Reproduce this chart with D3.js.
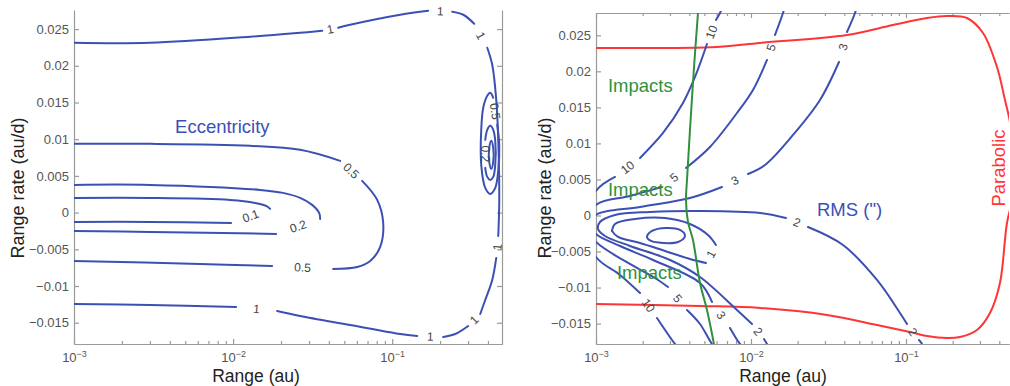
<!DOCTYPE html>
<html>
<head>
<meta charset="utf-8">
<script src="https://cdn.jsdelivr.net/npm/d3@7"></script>
<style>
  body { margin: 0; background: #fff; }
  svg { display: block; }
  text { font-family: "Liberation Sans", Arial, Helvetica, sans-serif; }
</style>
</head>
<body>
<svg id="chart" width="1010" height="386"></svg>
<script>
// ---- data (range in au, range rate in au/d) ----
var yTicks = [-0.015, -0.01, -0.005, 0, 0.005, 0.01, 0.015, 0.02, 0.025];
var xMajor = [0.001, 0.01, 0.1];

// left panel: eccentricity contours, each one split where its label sits
var ecc1 = [
    [[0.001, 0.023136], [0.003005, 0.023136], [0.012794, 0.023954], [0.026384, 0.024499], [0.036294, 0.024772]],
    [[0.04574, 0.025181], [0.054424, 0.02559], [0.112285, 0.026953], [0.16842, 0.027498]],
    [[0.2384, 0.027362], [0.27963, 0.026953], [0.32786, 0.025726]],
    [[0.39575, 0.022454], [0.42546, 0.020136], [0.45082, 0.015365], [0.46416, 0.009911], [0.47091, 0.001731], [0.46416, -0.003177]],
    [[0.45082, -0.006176], [0.42546, -0.009175], [0.38445, -0.011902], [0.35756, -0.01381]],
    [[0.30055, -0.015446], [0.24899, -0.016537], [0.20925, -0.016946]],
    [[0.14364, -0.016809], [0.11229, -0.016537], [0.054424, -0.01531], [0.026384, -0.014083], [0.018908, -0.013401]],
    [[0.010444, -0.012856], [0.003005, -0.012583], [0.001, -0.012447]]
];
var ecc05 = [
    [[0.001, 0.009366], [0.003005, 0.009366], [0.012794, 0.009093], [0.026384, 0.008548], [0.047085, 0.007048]],
    [[0.064756, 0.004321], [0.08048, 0.001731], [0.087792, -0.001404], [0.084059, -0.004676], [0.072724, -0.006585], [0.06024, -0.007403], [0.042553, -0.007676]],
    [[0.017587, -0.007267], [0.0062, -0.006994], [0.001, -0.006585]]
];
var ecc02 = [
    [[0.001, 0.003776], [0.003005, 0.003776], [0.014784, 0.003095], [0.020627, 0.002686], [0.026384, 0.002004], [0.031393, 0.00105], [0.034741, -0.000041], [0.035248, -0.000859]],
    [[0.018636, -0.002904], [0.003005, -0.002631], [0.001, -0.002495]]
];
var ecc01 = [
    [[0.001, 0.002004], [0.003005, 0.002004], [0.009575, 0.001731], [0.013749, 0.001322], [0.016126, 0.000913], [0.017085, 0.000504]],
    [[0.009715, -0.001404], [0.003005, -0.001268], [0.001, -0.001268]]
];
// small loops close to the right edge
var eccLoop05 = [
    [[0.4574, 0.011957], [0.47091, 0.00923], [0.46416, 0.005821], [0.44435, 0.003367], [0.41331, 0.002549], [0.38445, 0.003367],
     [0.36278, 0.006503], [0.36278, 0.011275], [0.37347, 0.014274], [0.39575, 0.01591], [0.41331, 0.016319], [0.43165, 0.015637]]
];
var eccLoop02 = [
    [[0.38445, 0.006094], [0.39575, 0.004867], [0.41331, 0.004457], [0.43165, 0.004867], [0.44435, 0.006503],
     [0.44435, 0.009775], [0.43165, 0.011275], [0.41331, 0.01182], [0.39575, 0.011275], [0.38445, 0.009911]]
];
var eccLoop01 = [
    [[0.41934, 0.009775], [0.43165, 0.00882], [0.43165, 0.006912], [0.41934, 0.005957], [0.40738, 0.006912], [0.40738, 0.00882]]
];

// right panel: RMS contours
var rms10 = [
    [[0.00345, -0.0185], [0.003233, -0.017828], [0.002474, -0.014221]],
    [[0.001923, -0.010752], [0.001428, -0.008255], [0.001, -0.005757], [0.000849, -0.00132], [0.001, 0.003399], [0.001326, 0.005341]],
    [[0.001923, 0.007977], [0.002706, 0.011446], [0.003641, 0.015607], [0.004352, 0.019215], [0.0052, 0.023792]],
    [[0.005943, 0.027122], [0.00631, 0.028094], [0.006598, 0.029064]]
];
var rms5 = [
    [[0.006, -0.0185], [0.005602, -0.017828], [0.004689, -0.015053], [0.003864, -0.013111]],
    [[0.002915, -0.009919], [0.002402, -0.008671], [0.001493, -0.006173], [0.001, -0.003676], [0.000862, -0.001595], [0.001, 0.001457], [0.001657, 0.002705], [0.002666, 0.003954]],
    [[0.003807, 0.00659], [0.005437, 0.009503], [0.008119, 0.01422], [0.010301, 0.017411], [0.012681, 0.021573]],
    [[0.014288, 0.025042], [0.016086, 0.028094], [0.016569, 0.029064]]
];
var rms3 = [
    [[0.00915, -0.0185], [0.008492, -0.017828], [0.00732, -0.015609]],
    [[0.005602, -0.012], [0.004689, -0.009365], [0.002332, -0.006173], [0.001428, -0.004231], [0.001, -0.002567], [0.000942, -0.001318],
     [0.001, 0.000069], [0.001923, 0.001179], [0.00404, 0.002428], [0.0065, 0.003954]],
    [[0.009561, 0.005757], [0.012314, 0.007006], [0.018662, 0.011168], [0.027868, 0.016024], [0.03695, 0.021295]],
    [[0.041625, 0.025457], [0.046893, 0.028094], [0.048306, 0.029064]]
];
var rms2 = [
    [[0.013262, -0.018659], [0.012681, -0.017828], [0.012133, -0.017134]],
    [[0.01015, -0.015053], [0.008119, -0.013111], [0.004689, -0.008532], [0.003003, -0.006173], [0.001657, -0.004231], [0.001143, -0.002844],
     [0.00103, -0.001873], [0.001061, -0.000902], [0.001326, 0.000069], [0.002231, 0.000486], [0.004689, 0.000624], [0.011432, 0.000347], [0.016816, -0.000347]],
    [[0.02332, -0.001595], [0.039227, -0.004093], [0.06501, -0.008948], [0.091471, -0.013527], [0.1015, -0.015053]],
    [[0.12131, -0.017273], [0.12681, -0.017828], [0.13065, -0.018661]]
];
var rms1 = [
    [[0.001268, -0.00215], [0.001326, -0.001179], [0.001785, -0.000485], [0.002788, -0.000347], [0.00404, -0.001179], [0.005278, -0.002705], [0.005943, -0.004093]],
    [[0.005124, -0.00659], [0.00404, -0.006035], [0.002788, -0.004925], [0.001923, -0.003815], [0.001387, -0.002983], [0.001268, -0.00215]]
];
var rmsMin = [
    [[0.002133, -0.002983], [0.002298, -0.00215], [0.002829, -0.001734], [0.003483, -0.002012], [0.003751, -0.002844], [0.003381, -0.003676], [0.002706, -0.003815], [0.002264, -0.003537]]
];

var parabolic = [
    [0.001, 0.02324], [0.006032, 0.023377], [0.011432, 0.023932], [0.041625, 0.025042], [0.08242, 0.026429], [0.13657, 0.0274],
    [0.18384, 0.027678], [0.24744, 0.0274], [0.3139, 0.025319], [0.3864, 0.020602], [0.43522, 0.016024], [0.4619, 0.013665],
    [0.5, 0.009087], [0.5, 0.003538], [0.44833, -0.00104], [0.40399, -0.009365], [0.34826, -0.013527], [0.28709, -0.015886],
    [0.22307, -0.016857], [0.18384, -0.016996], [0.13657, -0.016719], [0.10612, -0.016164], [0.06501, -0.015192],
    [0.030927, -0.013805], [0.011432, -0.012833], [0.004689, -0.012556], [0.001, -0.012278]
];
var impacts = [
    [0.004549, 0.028094], [0.00429, 0.020602], [0.00404, 0.011862], [0.003864, 0.004925], [0.003807, 0.00215],
    [0.003922, -0.000902], [0.004224, -0.003399], [0.004689, -0.009365], [0.0052, -0.013111], [0.00577, -0.017828]
];

var impactLabels = [[0.001195, 0.017133], [0.001195, 0.002705], [0.001366, -0.008809]];
var eccLabelAt = [0.004317, 0.010866];
var rmsLabelAt = [0.026658, -0.000069];
var parabolicLabelAt = [0.43522, 0.00659];

// ---- drawing ----
var blue = '#3c50b4', red = '#ff3535', green = '#2f913d', axisGrey = '#9a9a9a';
var svg = d3.select('#chart');

function makePanel(id, box, xDomain, yDomain) {
    var sx = d3.scaleLog().domain(xDomain).range([box.x0, box.x1]);
    var sy = d3.scaleLinear().domain(yDomain).range([box.y1, box.y0]);
    var g = svg.append('g');
    svg.append('clipPath').attr('id', 'clip' + id)
        .append('rect')
        .attr('x', box.x0).attr('y', box.y0 - 2)
        .attr('width', box.x1 - box.x0).attr('height', box.y1 - box.y0 + 2);

    var minors = sx.ticks().filter(d => xMajor.indexOf(d) < 0);

    function style(a) {
        a.attr('font-size', 13).attr('font-family', null);
        a.select('.domain').attr('stroke', axisGrey).attr('stroke-width', 1.2);
        a.selectAll('.tick line').attr('stroke', axisGrey).attr('stroke-width', 1.2);
        a.selectAll('.tick text').attr('fill', '#555');
    }

    // left axis
    g.append('g').attr('transform', `translate(${box.x0},0)`)
        .call(d3.axisLeft(sy).tickValues(yTicks).tickSize(-5).tickSizeOuter(0).tickPadding(5).tickFormat(d3.format('')))
        .call(style);
    if (box.right) {
        g.append('g').attr('transform', `translate(${box.x1},0)`)
            .call(d3.axisRight(sy).tickValues(yTicks).tickSize(-5).tickSizeOuter(0).tickFormat(''))
            .call(style);
    }
    // bottom axis with 10^n labels
    var bottom = g.append('g').attr('transform', `translate(0,${box.y1})`)
        .call(d3.axisBottom(sx).tickValues(xMajor).tickSize(-5).tickSizeOuter(0).tickPadding(9).tickFormat(''))
        .call(style);
    bottom.selectAll('.tick text').each(function (d) {
        var t = d3.select(this);
        t.append('tspan').text('10');
        t.append('tspan').attr('dy', -5).attr('font-size', 9)
            .text('\u2212' + Math.abs(Math.round(Math.log10(d))));
    });
    g.append('g').attr('transform', `translate(0,${box.y1})`)
        .call(d3.axisBottom(sx).tickValues(minors).tickSize(-3).tickSizeOuter(0).tickFormat(''))
        .call(style);
    if (box.top) {
        g.append('g').attr('transform', `translate(0,${box.y0})`)
            .call(d3.axisTop(sx).tickValues(xMajor).tickSize(-5).tickSizeOuter(0).tickFormat(''))
            .call(style);
        g.append('g').attr('transform', `translate(0,${box.y0})`)
            .call(d3.axisTop(sx).tickValues(minors).tickSize(-3).tickSizeOuter(0).tickFormat(''))
            .call(style);
    }

    g.append('text').attr('x', box.xTitle).attr('y', 382)
        .attr('text-anchor', 'middle').attr('font-size', 17.5).attr('fill', '#222')
        .text('Range (au)');
    g.append('text').attr('transform', `translate(${box.yTitle},188) rotate(-90)`)
        .attr('text-anchor', 'middle').attr('font-size', 18).attr('fill', '#222')
        .text('Range rate (au/d)');

    var plot = g.append('g').attr('clip-path', `url(#clip${id})`);
    return { sx: sx, sy: sy, g: g, plot: plot };
}

function drawContour(panel, c, color) {
    var line = d3.line()
        .x(d => panel.sx(d[0]))
        .y(d => panel.sy(d[1]))
        .curve(c.closed ? d3.curveCatmullRomClosed.alpha(0.5) : d3.curveCatmullRom.alpha(0.5));
    c.pieces.forEach(function (piece) {
        panel.plot.append('path')
            .attr('d', line(piece))
            .attr('fill', 'none')
            .attr('stroke', color)
            .attr('stroke-width', 2)
            .attr('stroke-linecap', 'round');
    });
    if (!c.level) return;
    // a label goes in each break between two pieces
    var gaps = [];
    for (let i = 0; i < c.pieces.length - 1; i++) {
        gaps.push([c.pieces[i][c.pieces[i].length - 1], c.pieces[i + 1][0]]);
    }
    if (c.wrap) {
        let p = c.pieces[0];
        gaps.push([p[p.length - 1], p[0]]);
    }
    gaps.forEach(function (gap) {
        var ax = panel.sx(gap[0][0]), ay = panel.sy(gap[0][1]);
        var bx = panel.sx(gap[1][0]), by = panel.sy(gap[1][1]);
        var ang = Math.atan2(by - ay, bx - ax) * 180 / Math.PI;
        if (ang > 90) ang -= 180;
        if (ang <= -90) ang += 180;
        panel.g.append('text')
            .attr('transform', `translate(${(ax + bx) / 2},${(ay + by) / 2}) rotate(${ang})`)
            .attr('text-anchor', 'middle')
            .attr('dy', '0.35em')
            .attr('font-size', 12)
            .attr('fill', '#444')
            .text(c.level);
    });
}

var left = makePanel('L', { x0: 74, x1: 502, y0: 10, y1: 344, right: true, top: false, xTitle: 256, yTitle: 24 },
    [0.001, 0.49], [-0.0179, 0.0276]);
var right = makePanel('R', { x0: 596, x1: 1009, y0: 13, y1: 344, right: false, top: true, xTitle: 783, yTitle: 551 },
    [0.001, 0.462], [-0.01783, 0.02809]);

[
    { level: '1', pieces: ecc1 },
    { level: '0.5', pieces: ecc05 },
    { level: '0.2', pieces: ecc02 },
    { level: '0.1', pieces: ecc01 },
    { level: '0.5', pieces: eccLoop05, wrap: true },
    { level: '0.2', pieces: eccLoop02, wrap: true },
    { level: '', pieces: eccLoop01, closed: true }
].forEach(c => drawContour(left, c, blue));

left.g.append('text')
    .attr('x', left.sx(eccLabelAt[0])).attr('y', left.sy(eccLabelAt[1]))
    .attr('font-size', 18.5).attr('fill', blue)
    .text('Eccentricity');

// right panel
var curveLine = d3.line()
    .x(d => right.sx(d[0]))
    .y(d => right.sy(d[1]))
    .curve(d3.curveCatmullRom.alpha(0.5));
right.plot.append('path').attr('d', curveLine(parabolic))
    .attr('fill', 'none').attr('stroke', red).attr('stroke-width', 2);

[
    { level: '10', pieces: rms10 },
    { level: '5', pieces: rms5 },
    { level: '3', pieces: rms3 },
    { level: '2', pieces: rms2 },
    { level: '1', pieces: rms1 },
    { level: '', pieces: rmsMin, closed: true }
].forEach(c => drawContour(right, c, blue));

right.plot.append('path').attr('d', curveLine(impacts))
    .attr('fill', 'none').attr('stroke', green).attr('stroke-width', 2);

right.g.selectAll('.impact-label')
    .data(impactLabels)
    .enter()
    .append('text')
    .attr('class', 'impact-label')
    .attr('x', d => right.sx(d[0]))
    .attr('y', d => right.sy(d[1]))
    .attr('font-size', 18.5)
    .attr('fill', green)
    .text('Impacts');

right.g.append('text')
    .attr('x', right.sx(rmsLabelAt[0])).attr('y', right.sy(rmsLabelAt[1]))
    .attr('font-size', 18.5).attr('fill', blue)
    .text('RMS (")');

right.g.append('text')
    .attr('transform', `translate(${right.sx(parabolicLabelAt[0])},${right.sy(parabolicLabelAt[1])}) rotate(-90)`)
    .attr('text-anchor', 'middle')
    .attr('font-size', 18.5).attr('fill', red)
    .text('Parabolic');
</script>
</body>
</html>
